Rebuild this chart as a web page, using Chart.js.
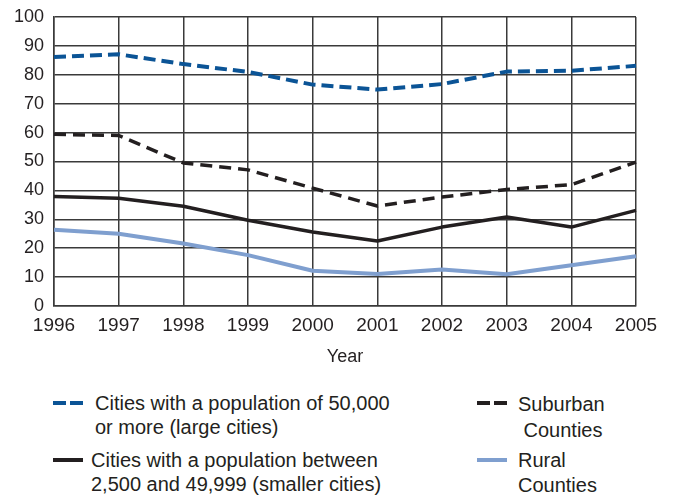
<!DOCTYPE html>
<html>
<head>
<meta charset="utf-8">
<script src="https://cdn.jsdelivr.net/npm/chart.js@4/dist/chart.umd.min.js"></script>
<style>
  body { margin: 0; background: #fff; font-family: "Liberation Sans", Arial, sans-serif; color: #231f20; }
  #wrap { position: relative; width: 673px; height: 495px; }
  #chartBox { position: absolute; left: 0; top: 0; width: 673px; height: 375px; }
  .leg { position: absolute; font-size: 20px; }
  .leg svg { position: absolute; }
</style>
</head>
<body>
<div id="wrap">
  <div id="chartBox"><canvas id="myChart"></canvas></div>
  <div id="legend"></div>
</div>
<script>
// ==========================================
// Data
// ==========================================
const years = ["1996", "1997", "1998", "1999", "2000", "2001", "2002", "2003", "2004", "2005"];
const largeCities = [86.2, 87.1, 83.7, 81.0, 76.6, 74.9, 76.8, 81.1, 81.4, 83.1];
const suburban = [59.4, 59.0, 49.5, 47.1, 40.8, 34.6, 37.7, 40.3, 42.0, 49.8];
const smallerCities = [37.9, 37.3, 34.5, 29.7, 25.6, 22.5, 27.3, 30.8, 27.3, 33.1];
const rural = [26.4, 25.0, 21.6, 17.6, 12.2, 11.1, 12.6, 11.0, 14.1, 17.2];
const yTicks = [0, 10, 20, 30, 40, 50, 60, 70, 80, 90, 100];

const BLUE = "#0b5496";
const DARK = "#231f20";
const LIGHT = "#7f9fcf";
const GRID = "#3a3a3a";

const ctx = document.getElementById("myChart");

let chart = new Chart(ctx, {
   type: "line",
   data: {
      labels: years,
      datasets: [
         { label: "Cities with a population of 50,000 or more (large cities)", data: largeCities,
           borderColor: BLUE, borderWidth: 4, borderDash: [12, 6] },
         { label: "Suburban Counties", data: suburban,
           borderColor: DARK, borderWidth: 3.5, borderDash: [12, 7] },
         { label: "Cities with a population between 2,500 and 49,999 (smaller cities)", data: smallerCities,
           borderColor: DARK, borderWidth: 3.5 },
         { label: "Rural Counties", data: rural,
           borderColor: LIGHT, borderWidth: 4 }
      ]
   },
   options: {
      responsive: true,
      maintainAspectRatio: false,
      animation: false,
      layout: { padding: { top: 17, right: 37, left: 0, bottom: 0 } },
      elements: { point: { radius: 0 }, line: { tension: 0, borderJoinStyle: "round" } },
      plugins: { legend: { display: false }, tooltip: { enabled: false } },
      scales: {
         x: {
            grid: { color: GRID, lineWidth: 1.5, drawTicks: false },
            border: { color: GRID, width: 1.5 },
            ticks: { color: DARK, font: { family: "Liberation Sans", size: 19 }, padding: 8, maxRotation: 0 },
            title: { display: true, text: "Year", color: DARK, font: { family: "Liberation Sans", size: 18 }, padding: { top: 4, bottom: 7 } },
            afterFit: (s) => { s.height = 69; }
         },
         y: {
            min: 0, max: 100,
            afterBuildTicks: (s) => { s.ticks = yTicks.map((v) => ({ value: v })); },
            grid: { color: GRID, lineWidth: 1.5, drawTicks: false },
            border: { color: GRID, width: 1.5 },
            ticks: { color: DARK, font: { family: "Liberation Sans", size: 18 }, padding: 10 },
            afterFit: (s) => { s.width = 54; s.paddingTop = 0; s.paddingBottom = 0; }
         }
      }
   }
});

// Legend (custom two-column layout)
const legendItems = [
   { x: 53, y: 391, color: BLUE, dash: "13 4", textX: 95, lh: 24, lines: ["Cities with a population of 50,000", "or more (large cities)"] },
   { x: 53, y: 448, color: DARK, dash: "", textX: 91, lh: 24, lines: ["Cities with a population between", "2,500 and 49,999 (smaller cities)"] },
   { x: 477, y: 391, color: DARK, dash: "13 4", textX: 518, lh: 26, lines: ["Suburban", "\u00a0Counties"] },
   { x: 477, y: 448, color: LIGHT, dash: "", textX: 518, lh: 25, lines: ["Rural", "Counties"] }
];
const legendEl = document.getElementById("legend");
legendItems.forEach((it) => {
   let element = document.createElement("DIV");
   element.classList.add("leg");
   element.style.left = it.x + "px";
   element.style.top = it.y + "px";
   element.style.lineHeight = it.lh + "px";
   element.innerHTML =
      '<svg width="30" height="6" style="left:0;top:9px"><line x1="0" y1="3" x2="30" y2="3" stroke="' + it.color +
      '" stroke-width="4" ' + (it.dash ? 'stroke-dasharray="' + it.dash + '"' : "") + '/></svg>' +
      '<div style="position:absolute;left:' + (it.textX - it.x) + 'px;top:0;white-space:nowrap">' + it.lines.join("<br>") + "</div>";
   legendEl.append(element);
});
</script>
</body>
</html>
